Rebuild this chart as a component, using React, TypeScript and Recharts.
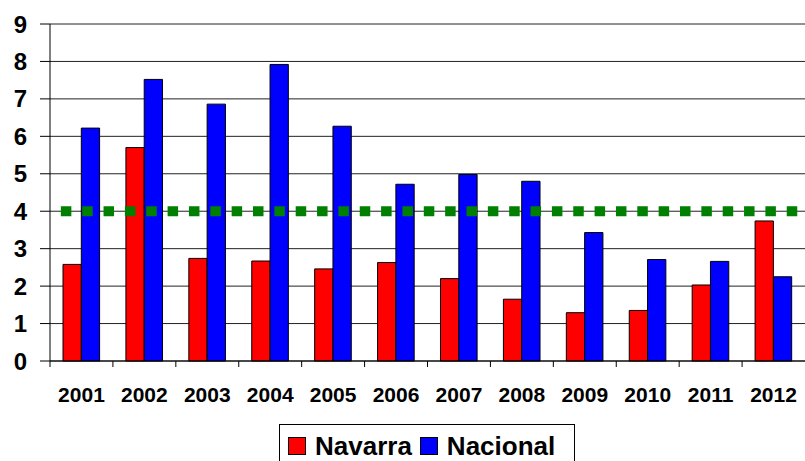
import React from 'react';
import {
  BarChart,
  Bar,
  XAxis,
  YAxis,
  CartesianGrid,
  ReferenceLine
} from 'recharts';

// values
const years = ['2001', '2002', '2003', '2004', '2005', '2006', '2007', '2008', '2009', '2010', '2011', '2012'];
const navarra = [2.58, 5.7, 2.74, 2.67, 2.46, 2.63, 2.2, 1.65, 1.29, 1.35, 2.03, 3.74];
const nacional = [6.22, 7.52, 6.86, 7.92, 6.27, 4.72, 4.98, 4.8, 3.43, 2.71, 2.66, 2.25];
const yTicks = [0, 1, 2, 3, 4, 5, 6, 7, 8, 9];
const targetValue = 4;

const seriesNames = ['Navarra', 'Nacional'];
const seriesColors = ['#ff0000', '#0000ff'];

const FONT = 'Arial, "Liberation Sans", sans-serif';

const data = years.map((year, i) => ({
  year,
  Navarra: navarra[i],
  Nacional: nacional[i],
}));

// category label plus a tick line on the left edge of each category
const YearTick = (props: any) => {
  const { x, y, payload } = props;
  const half = payload && payload.offset ? payload.offset : 0;
  return (
    <g>
      <line x1={x - half} x2={x - half} y1={y} y2={y + 6} stroke="#000" strokeWidth={1} />
      <text
        x={x}
        y={y + 41}
        textAnchor="middle"
        fontFamily={FONT}
        fontWeight="bold"
        fontSize={21}
        fill="#000"
      >
        {payload.value}
      </text>
    </g>
  );
};

const App: React.FC = () => {
  return (
    <div style={{ position: 'absolute', left: 0, top: 0, width: 805, height: 461, overflow: 'hidden', background: '#fff' }}>
      <BarChart
        width={805}
        height={461}
        data={data}
        margin={{ top: 24, right: 0, bottom: 0, left: 0 }}
        barGap={0}
        barSize={18.3}
      >
        <CartesianGrid horizontal vertical={false} stroke="#222" strokeWidth={1} />
        <XAxis
          dataKey="year"
          height={100}
          tickLine={false}
          tickSize={0}
          tickMargin={0}
          axisLine={{ stroke: '#000' }}
          tick={<YearTick />}
          interval={0}
        />
        <YAxis
          width={50}
          domain={[0, 9]}
          ticks={yTicks}
          interval={0}
          tickSize={10}
          tickMargin={13}
          axisLine={{ stroke: '#000' }}
          tickLine={{ stroke: '#000' }}
          tick={{ fontFamily: FONT, fontWeight: 'bold', fontSize: 24, fill: '#000' }}
        />
        <Bar dataKey="Navarra" fill={seriesColors[0]} stroke="#000" strokeWidth={1} isAnimationActive={false} />
        <Bar dataKey="Nacional" fill={seriesColors[1]} stroke="#000" strokeWidth={1} isAnimationActive={false} />
        <ReferenceLine
          y={targetValue}
          stroke="#008000"
          strokeWidth={10}
          strokeDasharray="10.5 10.85"
          strokeDashoffset={10.5}
        />
      </BarChart>
      {/* legend box */}
      <div
        style={{
          position: 'absolute',
          left: 279,
          top: 424,
          width: 296,
          height: 50,
          border: '1px solid #000',
          display: 'flex',
          alignItems: 'flex-start',
          paddingTop: 9,
          paddingLeft: 8,
          boxSizing: 'border-box',
          fontFamily: FONT,
          fontWeight: 'bold',
          fontSize: 26,
          lineHeight: '24px',
        }}
      >
        {seriesNames.map((name, i) => (
          <div key={name} style={{ display: 'flex', alignItems: 'center', marginRight: 8, height: 24 }}>
            <span
              style={{
                display: 'inline-block',
                width: 16,
                height: 16,
                background: seriesColors[i],
                border: '1px solid #000',
                marginRight: 9,
              }}
            />
            <span>{name}</span>
          </div>
        ))}
      </div>
    </div>
  );
};

export default App;
